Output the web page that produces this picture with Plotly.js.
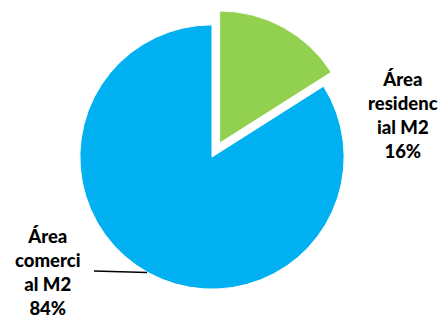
<!DOCTYPE html>
<html>
<head>
<meta charset="utf-8">
<script src="https://cdn.plot.ly/plotly-3.0.1.min.js"></script>
<style>html,body{margin:0;padding:0;background:#fff;}#chart{width:443px;height:320px;}</style>
</head>
<body>
<div id="chart"></div>
<script>
const categories = ["Área residencial M2", "Área comercial M2"];
const labelLines = [["Área", "residenc", "ial M2"], ["Área", "comerci", "al M2"]];
const values = [16, 84];
const colors = ["#92D050", "#00B0F0"];
const pulls = [0.12, 0];

const total = values.reduce((a, b) => a + b, 0);
const pct = values.map(v => Math.round(v / total * 100) + "%");
const labelText = labelLines.map((l, i) => l.concat([pct[i]]).join("<br>"));

const trace = {
  type: "pie",
  labels: categories,
  values: values,
  sort: false,
  direction: "clockwise",
  rotation: 0,
  pull: pulls,
  marker: { colors: colors, line: { color: "#ffffff", width: 1 } },
  textinfo: "none",
  hoverinfo: "label+percent",
  showlegend: false,
  domain: { x: [0.1445, 0.8126], y: [0.0469, 0.9719] }
};

const fontSpec = { family: "Lato, 'DejaVu Sans', sans-serif", size: 18.5, color: "#000000", weight: 900 };

const layout = {
  width: 443, height: 320,
  margin: { l: 0, r: 0, t: 0, b: 0 },
  paper_bgcolor: "#ffffff",
  showlegend: false,
  annotations: [
    { text: labelText[0], xref: "paper", yref: "paper", x: 403 / 443, y: 1 - 115 / 320,
      xanchor: "center", yanchor: "middle", showarrow: false, align: "center", font: fontSpec },
    { text: labelText[1], xref: "paper", yref: "paper", x: 48 / 443, y: 1 - 272 / 320,
      xanchor: "center", yanchor: "middle", showarrow: false, align: "center", font: fontSpec }
  ],
  shapes: [
    { type: "line", xref: "paper", yref: "paper", x0: 94 / 443, y0: 1 - 271 / 320, x1: 147 / 443, y1: 1 - 272.5 / 320,
      line: { color: "#000000", width: 1.3 } }
  ]
};

Plotly.newPlot("chart", [trace], layout, { displayModeBar: false, staticPlot: true });
</script>
</body>
</html>
